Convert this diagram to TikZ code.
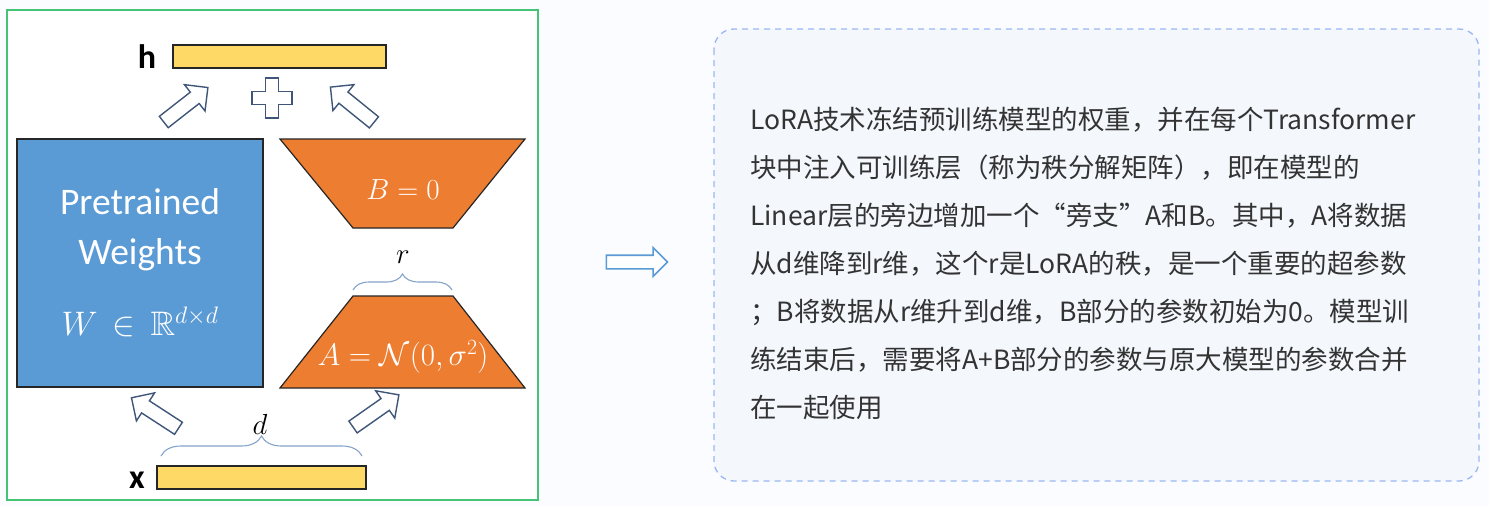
\RequirePackage{fix-cm}
\documentclass[tikz,border=0pt]{standalone}
\usepackage{amsmath}
\usepackage{amssymb}
\usepackage{fontspec}
\setmainfont{Carlito}
\newfontfamily\cjk{Noto Sans CJK SC}
\usetikzlibrary{shapes.arrows,decorations.pathreplacing}

\definecolor{pagebg}{HTML}{FAFCFF}
\definecolor{boxfill}{HTML}{F4F8FD}
\definecolor{dashblue}{HTML}{9BB7F2}
\definecolor{greenline}{HTML}{45C475}
\definecolor{wblue}{HTML}{5B9BD5}
\definecolor{lorange}{HTML}{ED7D31}
\definecolor{barfill}{HTML}{FFD966}
\definecolor{arrowline}{HTML}{3F5679}
\definecolor{bracecol}{HTML}{86A3CB}
\definecolor{textgray}{HTML}{333333}

\tikzset{
    bar/.style={draw=black!85, line width=1.2pt, fill=barfill, minimum height=23, inner sep=0},
    fatarrow/.style={single arrow, draw=arrowline, fill=white, line width=1.4pt, inner xsep=0, inner ysep=6.5,
        minimum height=56, single arrow head extend=9.5},
    whitetxt/.style={text=white, align=center, inner sep=0},
    mathtxt/.style={text=white, inner sep=0, font=\fontsize{29}{34}\selectfont},
    dimbrace/.style={draw=bracecol, line width=1.1pt, decorate},
}

\begin{document}
\begin{tikzpicture}[x=1pt, y=-1pt]
                \fill[pagebg] (0,0) rectangle (1489,506);
                \useasboundingbox (0,0) rectangle (1489,506);
                \draw[greenline, line width=1.2pt, fill=white] (7,10) rectangle (538,500);
                \node[bar, minimum width=213] (hbar) at (279.5,56.5) {};
                \node[inner sep=0, font=\fontsize{34}{40}\selectfont\bfseries] (hlab) at (147,57) {h};
                \node[bar, minimum width=209] (xbar) at (261.5,477.5) {};
                \node[inner sep=0, font=\fontsize{34}{40}\selectfont\bfseries] (xlab) at (137,480) {x};
                \node[draw=black!85, line width=1.2pt, fill=wblue, minimum width=246, minimum height=248] (wbox) at (140,263) {};
                \node[whitetxt, font=\fontsize{37.5}{50}\selectfont] (wname) at (140,230) {Pretrained\\Weights};
                \node[mathtxt, font=\fontsize{34}{40}\selectfont] (wdim) at (140,322) {$W \,\in\, \mathbb{R}^{d\times d}$};
                \draw[black!85, line width=1.2pt, fill=lorange] (280,139) -- (525,139) -- (453,228) -- (353,228) -- cycle;
                \node[mathtxt] (bzero) at (403,190) {$B = 0$};
                \draw[black!85, line width=1.2pt, fill=lorange] (353,296) -- (453,296) -- (525,388) -- (280,388) -- cycle;
                \node[mathtxt, font=\fontsize{31}{36}\selectfont] (anorm) at (403,357) {$A = \mathcal{N}(0,\sigma^2)$};
                \draw[dimbrace, decoration={brace, amplitude=16}] (353,290) -- (452,290);
                \node[inner sep=0, font=\fontsize{29}{34}\selectfont] (rlab) at (403,257) {$r$};
                \draw[dimbrace, decoration={brace, amplitude=20}] (161,456) -- (362,456);
                \node[inner sep=0, font=\fontsize{29}{34}\selectfont] (dlab) at (260,424) {$d$};
                \node[fatarrow, rotate=38] (wup) at (183,107) {};
                \node[fatarrow, rotate=141] (abup) at (355,107) {};
                \node[fatarrow, rotate=147] (xw) at (158,415) {};
                \node[fatarrow, rotate=35] (xa) at (373,413) {};
                \draw[arrowline, line width=1.4pt, fill=white] (265.5,78) -- (278.5,78) -- (278.5,91.5) -- (292,91.5)
                    -- (292,104.5) -- (278.5,104.5) -- (278.5,118) -- (265.5,118) -- (265.5,104.5) -- (252,104.5)
                    -- (252,91.5) -- (265.5,91.5) -- cycle;
                \node[single arrow, draw=wblue, fill=white, line width=1.6pt, inner xsep=0, inner ysep=6,
                    minimum height=61, single arrow head extend=7.5] (toright) at (633.5,262) {};
                \draw[dashblue, dash pattern=on 6pt off 5pt, line width=1.3pt, rounded corners=20, fill=boxfill] (714,29) rectangle (1479,481);
                \node[anchor=north west, align=left, inner sep=0, text=textgray, font=\cjk\fontsize{26.5}{48}\selectfont] (desc) at (750,107) {LoRA技术冻结预训练模型的权重，并在每个Transformer\\
块中注入可训练层（称为秩分解矩阵），即在模型的\\
Linear层的旁边增加一个“旁支”A和B。其中，A将数据\\
从d维降到r维，这个r是LoRA的秩，是一个重要的超参数\\
；B将数据从r维升到d维，B部分的参数初始为0。模型训\\
练结束后，需要将A+B部分的参数与原大模型的参数合并\\
在一起使用};
            \end{tikzpicture}
\end{document}
